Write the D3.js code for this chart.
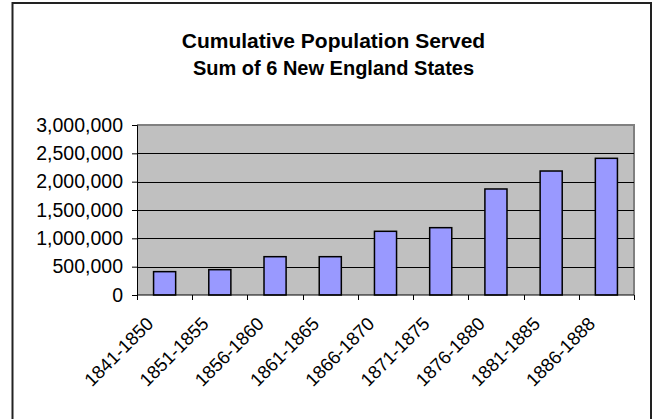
<!DOCTYPE html>
<html>
<head>
<meta charset="utf-8">
<script src="https://cdn.jsdelivr.net/npm/d3@7"></script>
<style>
  body { margin: 0; background: #fff; }
  svg { display: block; font-family: "Liberation Sans", Arial, sans-serif; }
</style>
</head>
<body>
<div id="main"></div>
<script>
const w = 655, h = 419
const plotL = 137, plotR = 634, plotT = 125, plotB = 295

// data
const periods = ['1841-1850', '1851-1855', '1856-1860', '1861-1865', '1866-1870', '1871-1875', '1876-1880', '1881-1885', '1886-1888']
const population = [412000, 447000, 676000, 676000, 1124000, 1188000, 1871000, 2188000, 2412000]
const yTicks = [0, 500000, 1000000, 1500000, 2000000, 2500000, 3000000]

const svg = d3.select('#main')
            .append('svg')
            .attr('width', w)
            .attr('height', h)

// outer chart border (bottom edge falls outside the picture)
svg.append('rect')
    .attr('x', 12.5)
    .attr('y', 3)
    .attr('width', 638.5)
    .attr('height', 430)
    .attr('fill', '#fff')
    .attr('stroke', '#222')
    .attr('stroke-width', 2)

const xScale = d3.scaleBand()
                .domain(periods)
                .range([plotL, plotR])
                .paddingInner(0.6)
                .paddingOuter(0.3)

const yScale = d3.scaleLinear()
                .domain([0, 3000000])
                .range([plotB, plotT])

// plot area
svg.append('rect')
    .attr('x', plotL)
    .attr('y', plotT)
    .attr('width', plotR - plotL)
    .attr('height', plotB - plotT)
    .attr('fill', '#c0c0c0')

svg.append('path')
    .attr('d', `M${plotL},${plotT}H${plotR}V${plotB}`)
    .attr('fill', 'none')
    .attr('stroke', '#808080')
    .attr('stroke-width', 2)

// gridlines
svg.append('g')
    .selectAll('line')
    .data(yTicks.slice(1, -1))
    .enter()
    .append('line')
    .attr('x1', plotL)
    .attr('x2', plotR)
    .attr('y1', d => Math.round(yScale(d)) + 0.5)
    .attr('y2', d => Math.round(yScale(d)) + 0.5)
    .attr('stroke', '#000')

// bars
svg.append('g')
    .selectAll('rect')
    .data(population)
    .enter()
    .append('rect')
    .attr('x', (d, i) => xScale(periods[i]))
    .attr('y', d => yScale(d))
    .attr('width', xScale.bandwidth())
    .attr('height', d => plotB - yScale(d))
    .attr('fill', '#9999ff')
    .attr('stroke', '#000')
    .attr('stroke-width', 1.5)

// y axis
const yAxis = d3.axisLeft(yScale)
                .tickValues(yTicks)
                .tickSize(5)
                .tickPadding(9)
                .tickFormat(d3.format(','))

const gy = svg.append('g')
    .attr('transform', `translate(${plotL},0)`)
    .call(yAxis)
gy.selectAll('text').style('font-size', '19.5px').attr('fill', '#000')
gy.selectAll('line, path').attr('stroke', '#000')

// x axis: ticks on category boundaries
const boundaries = d3.range(periods.length + 1).map(i => plotL + i * (plotR - plotL) / periods.length)

svg.append('line')
    .attr('x1', plotL)
    .attr('x2', plotR)
    .attr('y1', plotB)
    .attr('y2', plotB)
    .attr('stroke', '#000')

svg.append('g')
    .selectAll('line')
    .data(boundaries)
    .enter()
    .append('line')
    .attr('x1', d => Math.round(d) + 0.5)
    .attr('x2', d => Math.round(d) + 0.5)
    .attr('y1', plotB)
    .attr('y2', plotB + 5)
    .attr('stroke', '#000')

svg.append('g')
    .selectAll('text')
    .data(periods)
    .enter()
    .append('text')
    .text(d => d)
    .attr('transform', d => `translate(${xScale(d) + xScale.bandwidth() / 2 - 10},325) rotate(-45)`)
    .attr('text-anchor', 'end')
    .style('font-size', '18.5px')

// titles
svg.append('text')
    .text('Cumulative Population Served')
    .attr('x', 333.5)
    .attr('y', 48)
    .attr('text-anchor', 'middle')
    .style('font-size', '21px')
    .style('font-weight', 'bold')

svg.append('text')
    .text('Sum of 6 New England States')
    .attr('x', 333.5)
    .attr('y', 75)
    .attr('text-anchor', 'middle')
    .style('font-size', '20px')
    .style('font-weight', 'bold')
</script>
</body>
</html>
